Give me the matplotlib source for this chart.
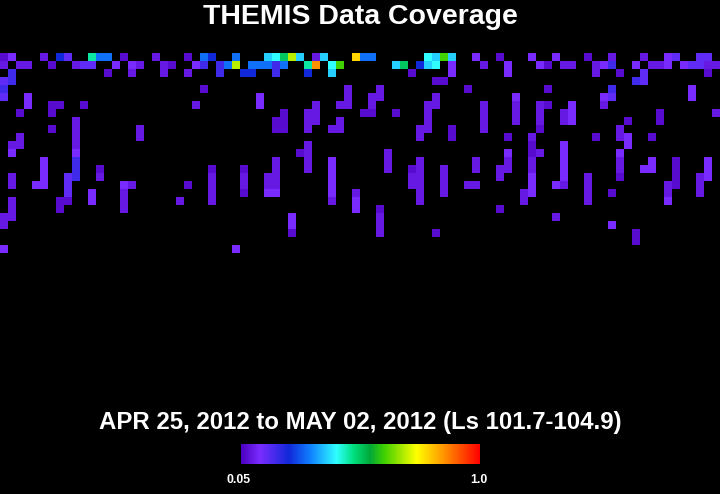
"""
THEMIS data coverage map for one week, drawn as a coloured grid on black.
"""

import numpy as np
import matplotlib
matplotlib.use('Agg')
import matplotlib.pyplot as plt
from matplotlib.colors import LinearSegmentedColormap, Normalize

title = 'THEMIS Data Coverage'
subtitle = 'APR 25, 2012 to MAY 02, 2012 (Ls 101.7-104.9)'
scale_min = 0.05
scale_max = 1.0
scale_labels = ['0.05', '1.0']

n_cols = 90
n_rows = 30

# coverage fraction per letter used in the rows below
level_values = {
    'a': 0.07, 'b': 0.093, 'c': 0.126, 'd': 0.155, 'e': 0.19,
    'f': 0.24, 'g': 0.31, 'h': 0.39, 'i': 0.43, 'j': 0.48,
    'k': 0.525, 'l': 0.62, 'm': 0.70, 'n': 0.79, 'o': 0.86,
}

# one entry per row from the top, "column + level"
coverage_rows = [
    '0a 1c 5b 7f 8d 11j 12g 13g 15a 19b 23a 25g 26f 29g 33h 34i 35k 36m 37h 39b 40h 44n 45g 46g 53i 54h 55l 56h 59c '
    '62a 66c 69c 73a 76b 80b 83c 84d 87d 88d',
    '0b 2b 3b 6a 9b 10d 11d 14c 16c 17b 20b 21a 24c 25e 27e 28g 29m 31g 32g 33g 34e 35g 38j 39o 41i 42l 49h 50k 52f '
    '53h 54i 56c 60b 63c 67c 68a 70b 71b 74b 75c 76e 79c 81b 82b 83c 85c 86d 87d 88b 89b',
    '1e 13a 16b 20b 23b 27e 30f 31f 34e 38f 41h 51a 56c 63c 74b 77a 80d 88a',
    '0d 1e 54a 55a 79e 80d',
    '0e 25a 43b 47b 58a 68a 76e 86c',
    '0d 3c 32c 43b 46b 47b 54b 64c 75c 76d 86c',
    '3c 6a 7a 10a 24b 32c 39b 42b 43b 46b 53b 54b 60b 64b 67b 68a 71c 75b',
    '2a 6a 35a 38b 39b 45a 46a 49a 53b 60b 64b 67b 70b 71c 82a 89b',
    '9b 34a 35a 38b 39b 42b 53b 60b 64b 67b 70b 71c 78a 82a',
    '6a 9b 17b 34a 35a 38b 41b 42b 52b 53b 56a 60b 67a 77b',
    '2b 9b 17b 52b 56a 63a 66b 74a 77b 78c 81a',
    '1b 2b 9b 38b 66a 70c 78c',
    '1c 9c 37a 38b 48b 63c 66a 67b 70c 77c',
    '5c 9e 34b 38b 41c 48b 52b 59b 63b 66b 70c 77b 81c 84a 88c',
    '5c 9e 12a 26a 30a 34b 38b 41c 48b 51a 52b 55b 59b 62b 63b 66b 70c 77b 80c 81c 84a 88c',
    '1b 5c 8d 9e 12b 26b 30b 33b 34b 41c 51b 52b 55b 62b 66c 70c 73b 77a 84a 87b 88c',
    '1b 4c 5c 8d 15c 16b 23a 26b 30b 33b 34b 41c 51b 52b 55b 58b 59b 66c 69c 70b 73b 83b 84a 87b',
    '8d 11c 15b 26b 30a 33c 34c 41c 44b 52b 55b 65b 66c 73b 76a 83b 87b',
    '1b 7a 8a 11c 15b 22b 26b 41b 44c 52b 65b 73b 83c',
    '1b 7a 15b 44c 47a 62a',
    '0b 1b 36c 47b 69b',
    '0b 36c 47b 76c',
    '36a 47b 54a 79a',
    '79a',
    '0c 29c',
]

# colour stops
bar_stops = [0.0, 0.08, 0.20, 0.29, 0.40, 0.47, 0.54, 0.60, 0.735, 0.82, 1.0]
bar_colors = ['#4a00c0', '#7a2cff', '#1028d8', '#1080ff', '#30ffff', '#00e080',
              '#00a838', '#40d000', '#ffff00', '#ffb000', '#ff0000']


def build_grid():
    grid = np.full((n_rows, n_cols), np.nan)
    for row, cells in enumerate(coverage_rows):
        for cell in cells.split():
            grid[row, int(cell[:-1])] = level_values[cell[-1]]
    return np.ma.masked_invalid(grid)


def main():
    plt.rcParams['font.family'] = ['Liberation Sans', 'DejaVu Sans']

    cmap = LinearSegmentedColormap.from_list('themis', list(zip(bar_stops, bar_colors)), N=512)
    norm = Normalize(scale_min, scale_max)

    W, H = 720, 494
    fig = plt.figure(figsize=(W / 100, H / 100), dpi=100, facecolor='black')

    map_top = 53
    map_h = n_rows * 8
    ax = fig.add_axes([0, 1 - (map_top + map_h) / H, 1, map_h / H])
    ax.set_facecolor('black')
    mesh = ax.pcolormesh(np.arange(n_cols + 1), np.arange(n_rows + 1), build_grid(),
                         cmap=cmap, norm=norm, antialiased=False, linewidth=0)
    ax.set_xlim(0, n_cols)
    ax.set_ylim(n_rows, 0)
    ax.axis('off')

    fig.text(360.5 / W, 1 - 24 / H, title, color='white', fontsize=20.5, fontweight='bold',
             ha='center', va='baseline')
    fig.text(360.5 / W, 1 - 429 / H, subtitle, color='white', fontsize=17.25, fontweight='bold',
             ha='center', va='baseline')

    cax = fig.add_axes([241 / W, 1 - 464 / H, 239 / W, 20 / H])
    cbar = fig.colorbar(mesh, cax=cax, orientation='horizontal')
    cbar.outline.set_visible(False)
    cbar.set_ticks([])
    cbar.ax.minorticks_off()

    fig.text(238.5 / W, 1 - 483 / H, scale_labels[0], color='white', fontsize=8.8,
             fontweight='bold', ha='center', va='baseline')
    fig.text(479 / W, 1 - 483 / H, scale_labels[1], color='white', fontsize=8.8,
             fontweight='bold', ha='center', va='baseline')

    fig.savefig('out.png', dpi=100, facecolor='black')


if __name__ == '__main__':
    main()
